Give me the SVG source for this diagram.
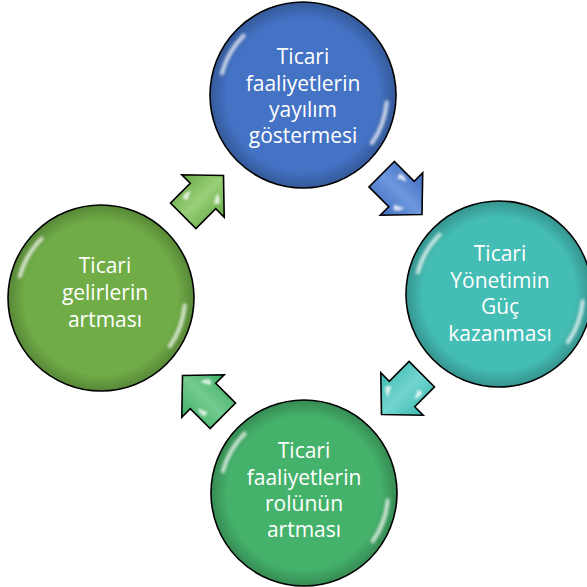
<svg xmlns="http://www.w3.org/2000/svg" xmlns:xlink="http://www.w3.org/1999/xlink" width="587" height="587" viewBox="0 0 587 587">
  <defs>
    <style>
      .body { stroke: #000; stroke-width: 1.6; }
      .label { font-family: "Open Sans", "Liberation Sans", sans-serif; font-size: 21px; fill: #fff; text-anchor: middle; }
      .arrow use.shape { stroke: #000; stroke-width: 1.6; stroke-linejoin: miter; }
    </style>
    <radialGradient id="rim" cx="0.5" cy="0.5" r="0.5">
      <stop offset="0.82" stop-color="#000" stop-opacity="0"/>
      <stop offset="1" stop-color="#000" stop-opacity="0.22"/>
    </radialGradient>
    <filter id="soft" x="-20%" y="-20%" width="140%" height="140%">
      <feGaussianBlur stdDeviation="1.4"/>
    </filter>
    <filter id="softer" x="-50%" y="-50%" width="200%" height="200%">
      <feGaussianBlur stdDeviation="0.9"/>
    </filter>
    <!-- glossy highlight streaks for a circle of radius ~93 -->
    <g id="gloss" filter="url(#soft)" fill="none" stroke="#fff" stroke-width="4" stroke-linecap="round" opacity="0.75">
      <path d="M -81.1 -21.7 A 84 84 0 0 1 -59.4 -59.4"/>
      <path d="M 83.7 7.3 A 84 84 0 0 1 68.8 48.2"/>
    </g>
    <!-- block arrow pointing along +x, centred on the origin -->
    <path id="arr" d="M -28 -18 H 0 V -30 L 29 0 L 0 30 V 18 H -28 Z"/>
    <g id="arrHi" filter="url(#softer)" fill="#fff" opacity="0.8">
      <path d="M -16 -13 Q -10 -16 -5 -12 Q -10 -11 -14 -8 Z"/>
      <path d="M 2 13 Q 8 10 12 8 Q 11 14 6 17 Z"/>
    </g>
    <linearGradient id="gBlue" x1="0" y1="0" x2="0" y2="1">
      <stop offset="0" stop-color="#3f6cc0"/>
      <stop offset="0.5" stop-color="#6d98de"/>
      <stop offset="1" stop-color="#3f6cc0"/>
    </linearGradient>
    <linearGradient id="gTeal" x1="0" y1="0" x2="0" y2="1">
      <stop offset="0" stop-color="#3cb9b1"/>
      <stop offset="0.5" stop-color="#72d6cf"/>
      <stop offset="1" stop-color="#3cb9b1"/>
    </linearGradient>
    <linearGradient id="gGreen" x1="0" y1="0" x2="0" y2="1">
      <stop offset="0" stop-color="#3fae66"/>
      <stop offset="0.5" stop-color="#74cc90"/>
      <stop offset="1" stop-color="#3fae66"/>
    </linearGradient>
    <linearGradient id="gOlive" x1="0" y1="0" x2="0" y2="1">
      <stop offset="0" stop-color="#67aa45"/>
      <stop offset="0.5" stop-color="#98cf78"/>
      <stop offset="1" stop-color="#67aa45"/>
    </linearGradient>
  </defs>

  <rect width="587" height="587" fill="#fff"/>

  <!-- connectors -->
  <g id="connectors">
    <g class="arrow" transform="translate(401.5 194) rotate(45)">
      <use class="shape" href="#arr" fill="url(#gBlue)"/>
      <use href="#arrHi"/>
    </g>
    <g class="arrow" transform="translate(402 394) rotate(135)">
      <use class="shape" href="#arr" fill="url(#gTeal)"/>
      <use href="#arrHi"/>
    </g>
    <g class="arrow" transform="translate(203 396) rotate(225)">
      <use class="shape" href="#arr" fill="url(#gGreen)"/>
      <use href="#arrHi"/>
    </g>
    <g class="arrow" transform="translate(203 196) rotate(-45)">
      <use class="shape" href="#arr" fill="url(#gOlive)"/>
      <use href="#arrHi"/>
    </g>
  </g>

  <!-- nodes -->
  <g id="node-top" transform="translate(303 95)">
    <circle class="body" r="93" fill="#4472c4"/>
    <circle r="93" fill="url(#rim)"/>
    <use href="#gloss"/>
    <text class="label" x="0" y="-31">Ticari</text>
    <text class="label" x="0" y="-4.5">faaliyetlerin</text>
    <text class="label" x="0" y="22">yayılım</text>
    <text class="label" x="0" y="48">göstermesi</text>
  </g>

  <g id="node-right" transform="translate(499 294)">
    <circle class="body" r="93" fill="#44bdb5"/>
    <circle r="93" fill="url(#rim)"/>
    <use href="#gloss"/>
    <text class="label" x="1" y="-33">Ticari</text>
    <text class="label" x="1" y="-6.5">Yönetimin</text>
    <text class="label" x="1" y="20">Güç</text>
    <text class="label" x="1" y="47">kazanması</text>
  </g>

  <g id="node-bottom" transform="translate(304 493)">
    <circle class="body" r="93" fill="#45b26b"/>
    <circle r="93" fill="url(#rim)"/>
    <use href="#gloss"/>
    <text class="label" x="0" y="-35">Ticari</text>
    <text class="label" x="0" y="-8.5">faaliyetlerin</text>
    <text class="label" x="0" y="18">rolünün</text>
    <text class="label" x="0" y="44">artması</text>
  </g>

  <g id="node-left" transform="translate(101 298)">
    <circle class="body" r="93" fill="#70ad47"/>
    <circle r="93" fill="url(#rim)"/>
    <use href="#gloss"/>
    <text class="label" x="4" y="-25">Ticari</text>
    <text class="label" x="4" y="2">gelirlerin</text>
    <text class="label" x="4" y="29">artması</text>
  </g>
</svg>
